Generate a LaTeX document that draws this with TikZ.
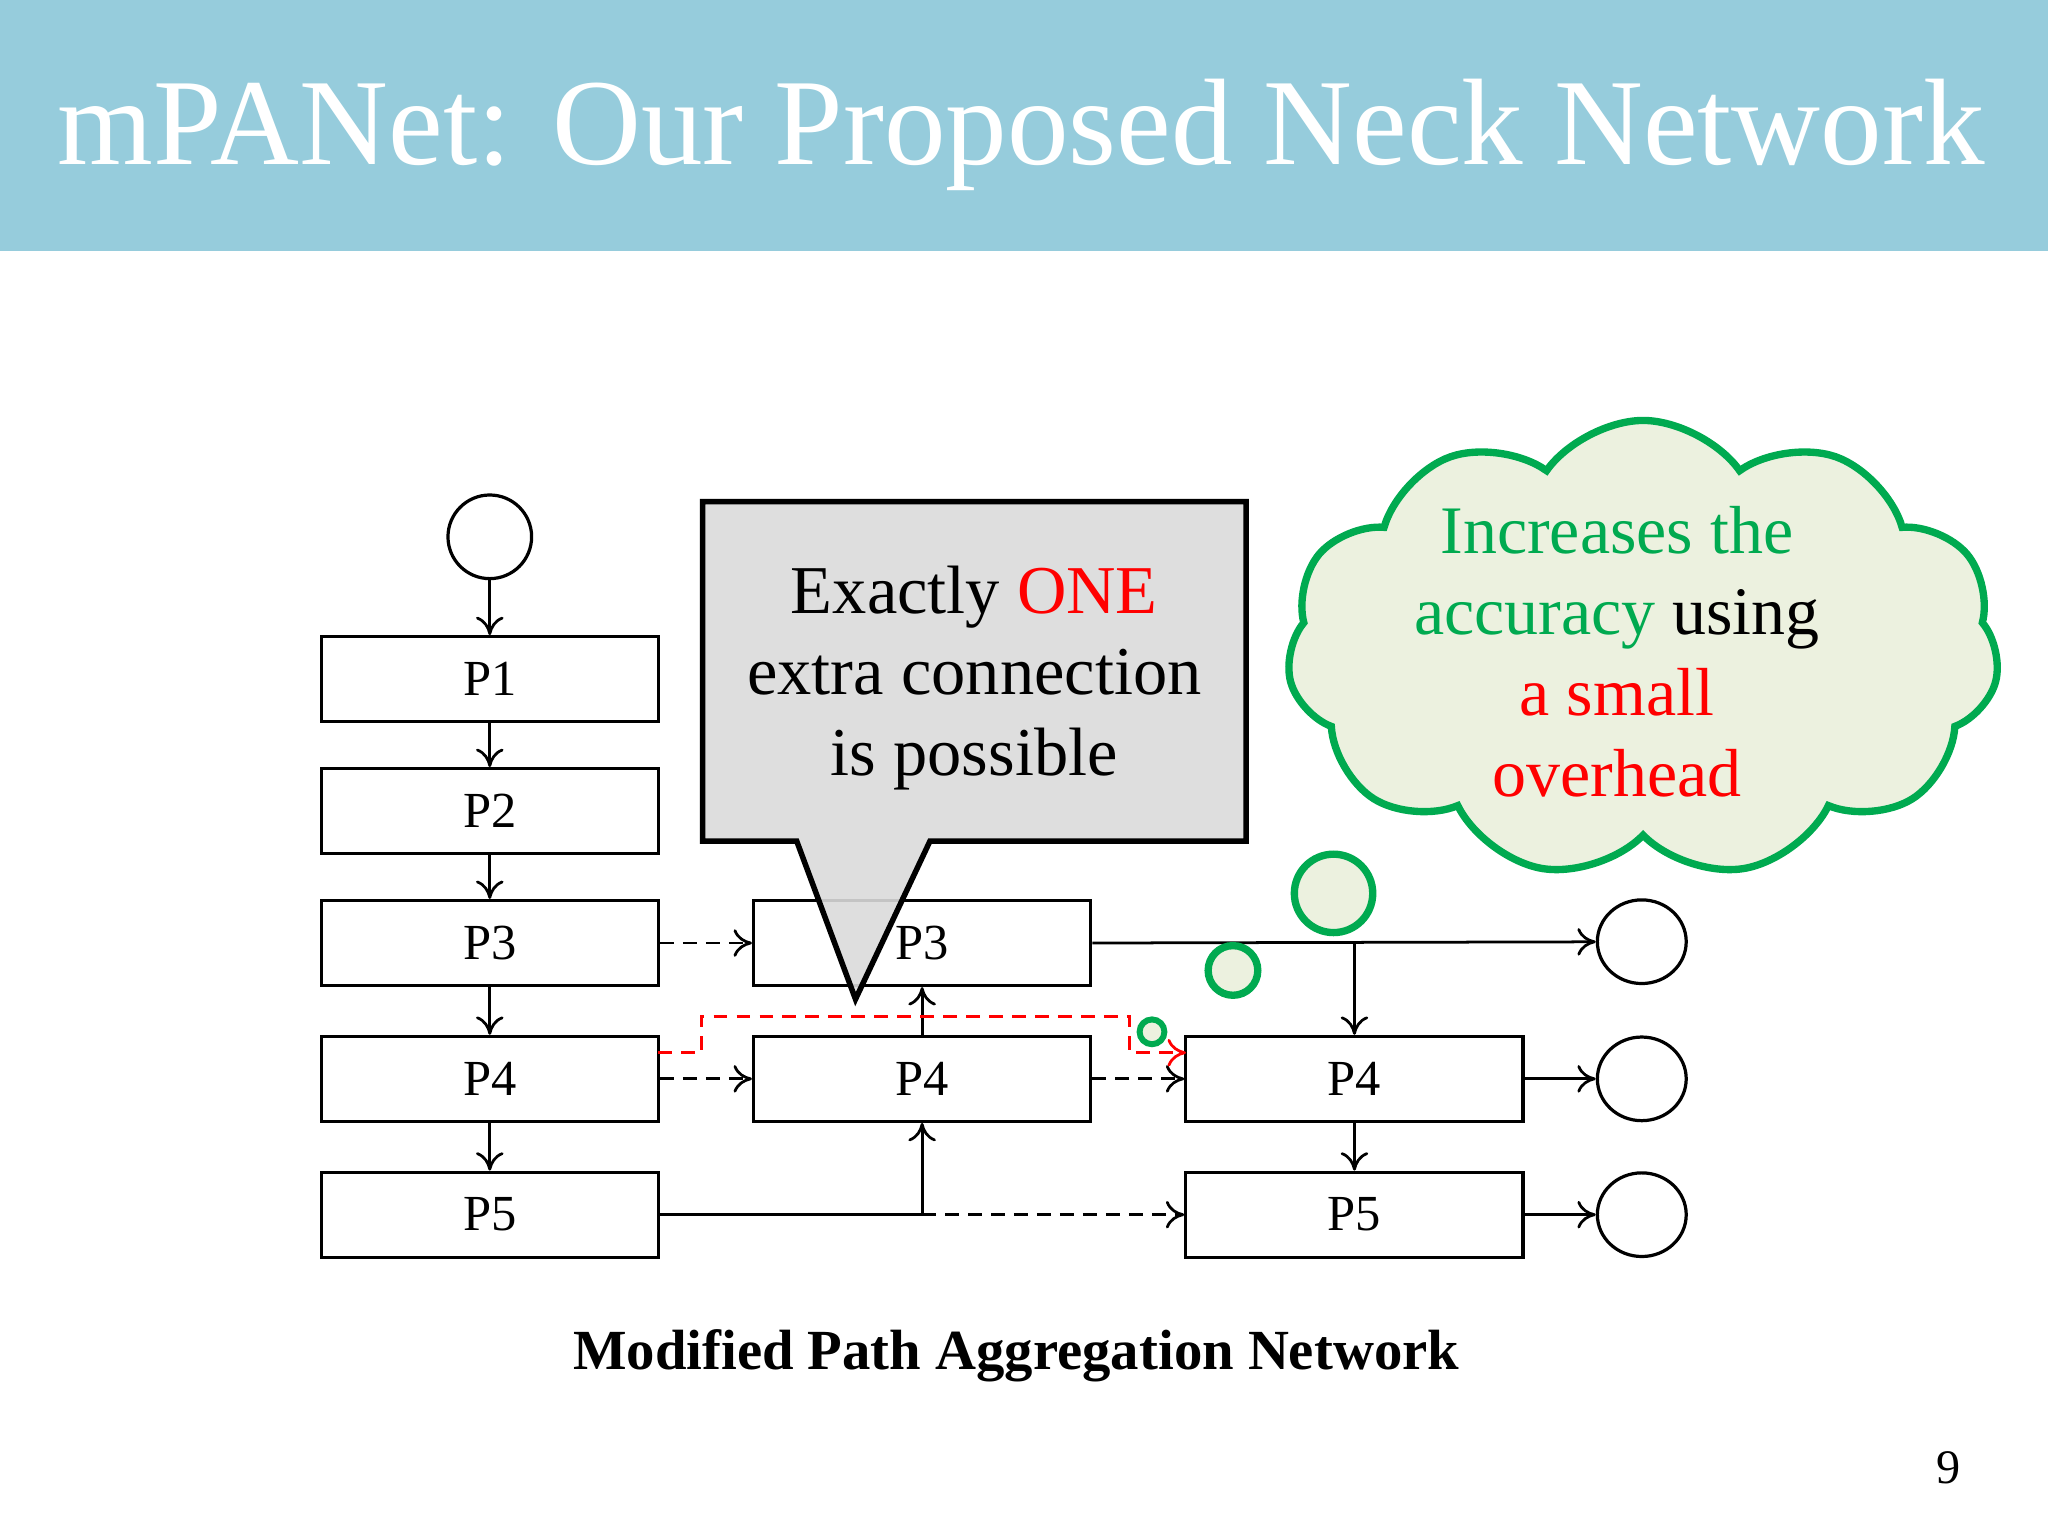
\documentclass[tikz,border=0pt]{standalone}
\usepackage{fontspec}
\setmainfont{Liberation Serif}
\usetikzlibrary{shapes.symbols,shapes.geometric,arrows.meta}
\definecolor{hdr}{RGB}{150,204,220}
\definecolor{grn}{RGB}{0,170,80}
\definecolor{cloudfill}{RGB}{236,241,223}
\definecolor{callgray}{RGB}{218,218,218}
\tikzset{
  pbox/.style={draw,line width=0.7pt,minimum width=2.58cm,minimum height=0.65cm,inner sep=0pt,font=\fontsize{11}{12}\selectfont},
  outc/.style={draw,ellipse,line width=0.7pt,minimum width=0.68cm,minimum height=0.64cm,inner sep=0pt},
  arr/.style={-{To[length=4pt,width=6pt]},line width=0.6pt},
  darr/.style={arr,dash pattern=on 3pt off 2pt},
  rarr/.style={darr,red},
  bub/.style={draw=grn,line width=1.6pt,fill=cloudfill,circle,inner sep=0pt}
}
\begin{document}
\begin{tikzpicture}[x=0.01cm,y=-0.01cm]
\useasboundingbox (0,0) rectangle (1568,1176);
\fill[hdr] (0,0) rectangle (1568,192);
\node[text=white,font=\fontsize{26.8}{30}\selectfont] (title) at (782,103) {mPANet: Our Proposed Neck Network};
% left column
\node[outc,minimum width=0.64cm] (c0) at (375,411) {};
\node[pbox] (l1) at (375,520) {P1};
\node[pbox] (l2) at (375,621) {P2};
\node[pbox] (l3) at (375,722) {P3};
\node[pbox] (l4) at (375,826) {P4};
\node[pbox] (l5) at (375,930) {P5};
\draw[arr] (c0) -- (l1);
\draw[arr] (l1) -- (l2);
\draw[arr] (l2) -- (l3);
\draw[arr] (l3) -- (l4);
\draw[arr] (l4) -- (l5);
% middle
\node[pbox] (m3) at (706,722) {P3};
\node[pbox] (m4) at (706,826) {P4};
% right
\node[pbox] (r4) at (1037,826) {P4};
\node[pbox] (r5) at (1037,930) {P5};
\node[outc] (o3) at (1257,721) {};
\node[outc] (o4) at (1257,826) {};
\node[outc] (o5) at (1257,930) {};
\draw[darr] (l3) -- (m3);
\draw[darr] (l4) -- (m4);
\draw[darr] (m4) -- (r4);
\coordinate (j5) at (706,930);
\draw[line width=0.6pt] (l5.east) -- (j5);
\draw[arr] (j5) -- (m4.south);
\draw[darr] (j5) -- (r5.west);
\draw[arr] (m4.north) -- (m3.south);
\draw[arr] (m3.east) -- (o3);
\coordinate (j3) at (1037,721);
\draw[arr] (j3) -- (r4.north);
\draw[arr] (r4) -- (r5);
\draw[arr] (r4) -- (o4);
\draw[arr] (r5) -- (o5);
\coordinate (rs) at (504,806);
\coordinate (re) at (908,806);
\draw[rarr] (rs) -- (537,806) -- (537,778) -- (865,778) -- (865,806) -- (re);
% callout
\draw[line width=1.2pt,fill=callgray,fill opacity=0.9] (538,384) -- (954,384) -- (954,644) -- (712,644) -- (655,765) -- (610,644) -- (538,644) -- cycle;
\node[align=center,font=\fontsize{14.9}{17.6}\selectfont] (ct) at (746,519) {Exactly \textcolor{red}{ONE}\\extra connection\\is possible};
% cloud
\node[cloud,cloud puffs=11,cloud puff arc=110,aspect=1.6,draw=grn,line width=1.6pt,fill=cloudfill,minimum width=5.45cm,minimum height=3.5cm] (cl) at (1258,497) {};
\node[align=center,font=\fontsize{14.8}{17.6}\selectfont] (clt) at (1238,499) {\textcolor{grn}{Increases the}\\\textcolor{grn}{accuracy} using\\\textcolor{red}{a small}\\\textcolor{red}{overhead}};
\node[bub,minimum size=0.60cm] (b1) at (1021,684) {};
\node[bub,minimum size=0.38cm] (b2) at (944,743) {};
\node[bub,minimum size=0.19cm,line width=1.3pt] (b3) at (882,790) {};
\node[font=\bfseries\fontsize{12.35}{15}\selectfont] (cap) at (778,1038) {Modified Path Aggregation Network};
\node[font=\fontsize{10.5}{12}\selectfont] (pg) at (1492,1124) {9};
\end{tikzpicture}
\end{document}
